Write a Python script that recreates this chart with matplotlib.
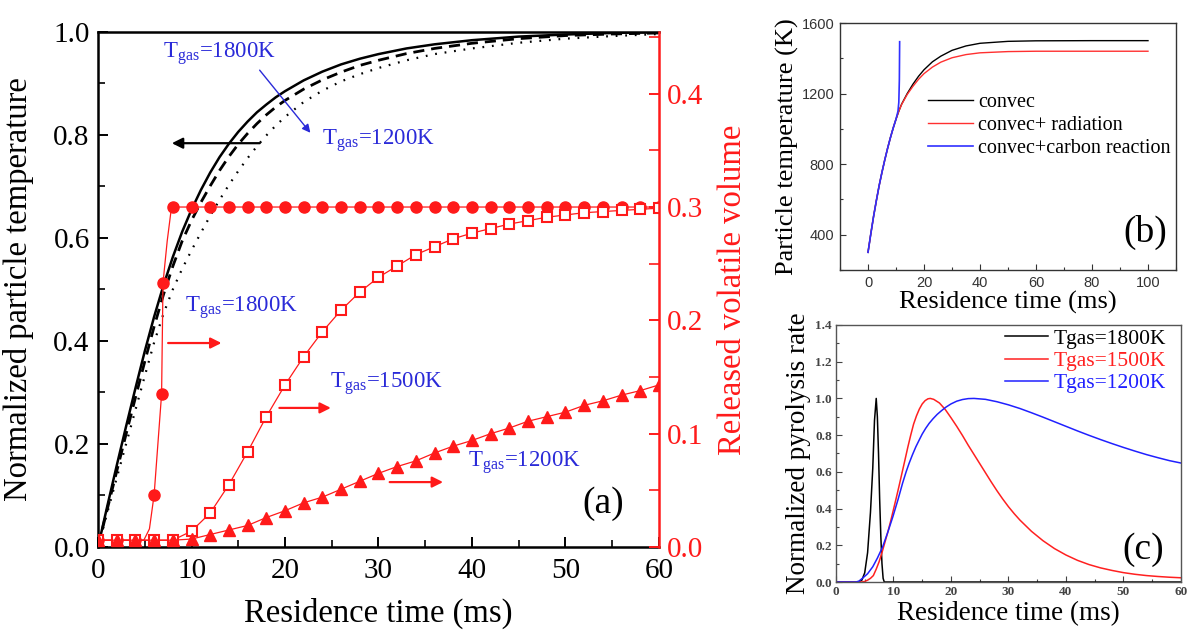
import matplotlib
matplotlib.use("Agg")
import matplotlib.pyplot as plt
from matplotlib.ticker import MultipleLocator

plt.rcParams['font.family'] = ['Liberation Serif', 'DejaVu Serif']
plt.rcParams['mathtext.fontset'] = 'custom'
plt.rcParams['mathtext.rm'] = 'Liberation Serif'
plt.rcParams['mathtext.it'] = 'Liberation Serif:italic'

# ---------------- panel (a): normalized particle temperature ----------------
t_T = [0, 1, 2, 3, 4, 5, 6, 7, 8, 9, 10, 11, 12, 13, 14, 15, 16, 17, 18, 19, 20, 22, 24, 26, 28, 30,
       33, 36, 40, 45, 50, 55, 60]
T1800 = [0, 0.08, 0.158, 0.234, 0.308, 0.38, 0.447, 0.508, 0.563, 0.612, 0.655, 0.693, 0.727, 0.757,
         0.783, 0.806, 0.826, 0.844, 0.859, 0.873, 0.885, 0.906, 0.923, 0.937, 0.948, 0.957, 0.968,
         0.976, 0.984, 0.991, 0.995, 0.998, 1.0]
T1500 = [0, 0.074, 0.147, 0.219, 0.29, 0.36, 0.428, 0.49, 0.545, 0.594, 0.634, 0.669, 0.701, 0.731,
         0.758, 0.782, 0.803, 0.822, 0.839, 0.854, 0.867, 0.889, 0.907, 0.922, 0.935, 0.945, 0.958,
         0.968, 0.978, 0.987, 0.993, 0.996, 0.998]
T1200 = [0, 0.067, 0.134, 0.2, 0.266, 0.332, 0.397, 0.453, 0.5, 0.54, 0.576, 0.61, 0.643, 0.674,
         0.703, 0.73, 0.755, 0.778, 0.799, 0.818, 0.835, 0.864, 0.886, 0.904, 0.918, 0.93, 0.945,
         0.957, 0.968, 0.979, 0.987, 0.992, 0.996]

# released volatile volume
t_V1800 = [0, 2, 4, 4.9, 5.5, 6.0, 6.8, 6.95, 7.4, 7.8, 8, 10, 12, 14, 16, 18, 20, 22, 24, 26, 28, 30,
           32, 34, 36, 38, 40, 42, 44, 46, 48, 50, 52, 54, 56, 58, 60]
V1800 = [0.006, 0.006, 0.006, 0.006, 0.016, 0.046, 0.135, 0.233, 0.27, 0.296] + [0.3] * 27
V1800_marks = [0, 1, 2, 5, 6, 7] + list(range(10, 37))

t_V = [0, 2, 4, 6, 8, 10, 12, 14, 16, 18, 20, 22, 24, 26, 28, 30, 32, 34, 36, 38, 40, 42, 44, 46, 48,
       50, 52, 54, 56, 58, 60]
V1500 = [0.006, 0.006, 0.006, 0.006, 0.006, 0.014, 0.030, 0.055, 0.084, 0.115, 0.143, 0.168, 0.190,
         0.209, 0.225, 0.238, 0.248, 0.258, 0.265, 0.272, 0.277, 0.281, 0.285, 0.288, 0.291, 0.293,
         0.295, 0.296, 0.297, 0.298, 0.299]
V1200 = [0.006, 0.006, 0.006, 0.006, 0.006, 0.007, 0.011, 0.015, 0.019, 0.026, 0.032, 0.039, 0.044,
         0.051, 0.058, 0.065, 0.071, 0.076, 0.083, 0.089, 0.094, 0.100, 0.105, 0.111, 0.115, 0.119,
         0.125, 0.129, 0.134, 0.138, 0.143]

# ---------------- panel (b): particle temperature ----------------
t_b = [0, 1, 2, 3, 4, 5, 6, 7, 8, 9, 10, 11, 12, 14, 16, 18, 20, 23, 26, 30, 35, 40, 50, 60, 80, 100]
Tb_convec = [300, 405, 505, 595, 680, 755, 825, 890, 950, 1005, 1055, 1100, 1140, 1200, 1252, 1297,
             1335, 1380, 1412, 1445, 1470, 1485, 1496, 1499, 1500, 1500]
Tb_rad = [300, 405, 505, 595, 680, 755, 825, 890, 950, 1005, 1055, 1100, 1138, 1195, 1240, 1280,
          1313, 1350, 1378, 1403, 1421, 1431, 1438, 1440, 1440, 1440]
t_b_carbon = [0, 1, 2, 3, 4, 5, 6, 7, 8, 9, 10, 10.7, 11.0, 11.2, 11.3]
Tb_carbon = [300, 405, 505, 595, 680, 755, 825, 890, 950, 1005, 1055, 1100, 1150, 1280, 1494]

# ---------------- panel (c): normalized pyrolysis rate ----------------
t_c1800 = [0, 4.0, 4.5, 5.0, 5.5, 6.0, 6.4, 6.7, 7.0, 7.2, 7.4, 7.6, 7.8, 8.0, 8.2, 8.4, 60]
R1800 = [0, 0, 0.01, 0.05, 0.16, 0.38, 0.62, 0.88, 1.0, 0.9, 0.7, 0.45, 0.25, 0.1, 0.02, 0, 0]
t_c1500 = [0, 4.5, 5.0, 5.5, 6.0, 6.5, 7.0, 7.5, 8.0, 8.5, 9.0, 9.5, 10.0, 10.5, 11.0, 11.5, 12.0,
           12.5, 13.0, 13.5, 14.0, 14.5, 15.0, 15.5, 16.0, 16.4, 17, 18, 19, 20, 21, 22, 23, 24, 25,
           26, 27, 28, 29, 30, 31, 32, 34, 36, 38, 40, 42, 44, 46, 48, 50, 52, 54, 56, 58, 60]
R1500 = [0, 0, 0.003, 0.01, 0.02, 0.035, 0.07, 0.11, 0.16, 0.215, 0.27, 0.33, 0.395, 0.46, 0.527,
         0.596, 0.665, 0.735, 0.8, 0.86, 0.905, 0.942, 0.97, 0.988, 0.998, 1.0, 0.995, 0.975, 0.94,
         0.895, 0.848, 0.798, 0.745, 0.695, 0.645, 0.595, 0.545, 0.497, 0.452, 0.41, 0.372, 0.337,
         0.276, 0.225, 0.182, 0.147, 0.118, 0.095, 0.077, 0.063, 0.051, 0.042, 0.035, 0.03, 0.026,
         0.023]
t_c1200 = [0, 3.5, 4.0, 4.6, 5.5, 6.4, 7.2, 8.1, 9.0, 9.9, 10.8, 11.6, 12.2, 12.7, 13.3, 13.9, 14.5,
           15.0, 15.6, 16.2, 16.9, 17.6, 18.3, 19.1, 20.0, 21.0, 22.0, 23.0, 24.0, 26, 28, 30, 32, 34,
           36, 38, 40, 42, 44, 46, 48, 50, 52, 54, 56, 58, 60]
R1200 = [0, 0, 0.005, 0.02, 0.045, 0.083, 0.13, 0.19, 0.27, 0.356, 0.45, 0.54, 0.6, 0.645, 0.693,
         0.737, 0.775, 0.806, 0.837, 0.864, 0.89, 0.913, 0.932, 0.952, 0.97, 0.985, 0.994, 0.999, 1.0,
         0.995, 0.982, 0.965, 0.945, 0.922, 0.898, 0.873, 0.848, 0.823, 0.799, 0.776, 0.754, 0.733,
         0.713, 0.694, 0.677, 0.661, 0.648]

RED = '#ff1a1a'
BLUE = '#2a2ad8'

fig = plt.figure(figsize=(11.91, 6.39), dpi=100)

# ================= panel (a) =================
ax = fig.add_axes([0.0823, 0.144, 0.4710, 0.806])
ax.plot(t_T, T1800, color='black', lw=1.8, ls='-')
ax.plot(t_T, T1500, color='black', lw=2.0, ls=(0, (4, 2.5)))
ax.plot(t_T, T1200, color='black', lw=1.6, ls=(0, (0.8, 3.5)))
ax.set_xlim(0, 60)
ax.set_ylim(0, 1.0)
ax.xaxis.set_major_locator(MultipleLocator(10))
ax.xaxis.set_minor_locator(MultipleLocator(5))
ax.yaxis.set_major_locator(MultipleLocator(0.2))
ax.yaxis.set_minor_locator(MultipleLocator(0.1))
ax.yaxis.set_major_formatter(plt.FuncFormatter(lambda v, p: f'{v:.1f}'))
ax.tick_params(axis='both', which='major', direction='in', length=7, width=1.4, labelsize=21)
ax.tick_params(axis='both', which='minor', direction='in', length=5, width=1.2)
ax.tick_params(axis='x', pad=8)
ax.tick_params(axis='y', pad=6)
for s in ['left', 'bottom', 'top']:
    ax.spines[s].set_linewidth(1.8)
ax.spines['right'].set_visible(False)
ax.set_xlabel('Residence time (ms)', fontsize=23.5, labelpad=10)
ax.set_ylabel('Normalized particle temperature', fontsize=23.5, labelpad=14)

ax2 = ax.twinx()
ax2.plot(t_V1800, V1800, color=RED, lw=0.9, marker='o', ms=8, markevery=V1800_marks,
         markerfacecolor=RED, markeredgecolor=RED)
ax2.plot(t_V, V1500, color=RED, lw=0.9, marker='s', ms=6.5, markerfacecolor='white',
         markeredgecolor=RED, markeredgewidth=1.5)
ax2.plot(t_V, V1200, color=RED, lw=0.9, marker='^', ms=8.5, markerfacecolor=RED,
         markeredgecolor=RED)
ax2.set_ylim(0, 0.4545)
ax2.yaxis.set_major_locator(MultipleLocator(0.1))
ax2.yaxis.set_minor_locator(MultipleLocator(0.05))
ax2.yaxis.set_major_formatter(plt.FuncFormatter(lambda v, p: f'{v:.1f}'))
ax2.tick_params(axis='y', which='major', direction='in', length=7, width=1.4, labelsize=21,
                colors=RED, pad=6)
ax2.tick_params(axis='y', which='minor', direction='in', length=7, width=1.2, colors=RED)
for s in ['left', 'bottom', 'top']:
    ax2.spines[s].set_visible(False)
ax2.spines['right'].set_color(RED)
ax2.spines['right'].set_linewidth(1.8)
ax2.set_ylabel('Released volatile volume', fontsize=23.5, color=RED, labelpad=10)

tg = r'$\mathregular{T_{gas}}$'
ax.text(7.0, 0.957, tg + '=1800K', color=BLUE, fontsize=16.5, va='center', ha='left')
ax.annotate('', xy=(22.9, 0.80), xytext=(17.1, 0.93),
            arrowprops=dict(arrowstyle='-|>', color=BLUE, lw=1.0, mutation_scale=12))
ax.text(24.0, 0.79, tg + '=1200K', color=BLUE, fontsize=16.5, va='center', ha='left')
ax.annotate('', xy=(7.6, 0.784), xytext=(17.6, 0.784),
            arrowprops=dict(arrowstyle='-|>', color='black', lw=1.6, mutation_scale=16))

ax.text(9.3, 0.464, tg + '=1800K', color=BLUE, fontsize=16.5, va='center', ha='left')
ax.annotate('', xy=(13.5, 0.396), xytext=(7.2, 0.396),
            arrowprops=dict(arrowstyle='-|>', color=RED, lw=1.6, mutation_scale=16))
ax.text(24.8, 0.318, tg + '=1500K', color=BLUE, fontsize=16.5, va='center', ha='left')
ax.annotate('', xy=(25.2, 0.27), xytext=(19.1, 0.27),
            arrowprops=dict(arrowstyle='-|>', color=RED, lw=1.6, mutation_scale=16))
ax.text(39.6, 0.163, tg + '=1200K', color=BLUE, fontsize=16.5, va='center', ha='left')
ax.annotate('', xy=(37.2, 0.126), xytext=(30.9, 0.126),
            arrowprops=dict(arrowstyle='-|>', color=RED, lw=1.6, mutation_scale=16))
ax.text(54.0, 0.085, '(a)', fontsize=27, ha='center', va='center')

# ================= panel (b) =================
bx = fig.add_axes([0.7053, 0.5775, 0.2821, 0.3865])
bx.plot(t_b, Tb_convec, color='black', lw=1.0, label='convec')
bx.plot(t_b, Tb_rad, color='#ff3030', lw=1.0, label='convec+ radiation')
bx.plot(t_b_carbon, Tb_carbon, color='#3030ff', lw=1.2, label='convec+carbon reaction')
bx.set_xlim(-10, 110)
bx.set_ylim(200, 1600)
bx.xaxis.set_major_locator(MultipleLocator(20))
bx.xaxis.set_minor_locator(MultipleLocator(10))
bx.yaxis.set_major_locator(MultipleLocator(400))
bx.yaxis.set_minor_locator(MultipleLocator(200))
bx.tick_params(axis='both', which='major', direction='in', length=4, width=0.8, labelsize=10.5,
               colors='#333333', pad=4)
bx.tick_params(axis='both', which='minor', direction='in', length=2, width=0.8, colors='#333333')
for lab in bx.get_xticklabels() + bx.get_yticklabels():
    lab.set_family(['Liberation Sans', 'DejaVu Sans'])
for s in bx.spines.values():
    s.set_color('#333333')
    s.set_linewidth(1.0)
bx.set_xlabel('Residence time (ms)', fontsize=19, labelpad=1)
bx.set_ylabel('Particle temperature (K)', fontsize=19, labelpad=2)
bx.legend(loc='upper left', bbox_to_anchor=(0.262, 0.715), frameon=False, fontsize=14.5,
          handlelength=2.25, handletextpad=0.25, labelspacing=0.18, borderpad=0, borderaxespad=0)
bx.text(0.908, 0.15, '(b)', transform=bx.transAxes, fontsize=27, ha='center', va='center')

# ================= panel (c) =================
cx = fig.add_axes([0.7019, 0.0892, 0.2897, 0.4022])
cx.plot(t_c1800, R1800, color='black', lw=1.1, label='Tgas=1800K')
cx.plot(t_c1500, R1500, color='#ff2020', lw=1.1, label='Tgas=1500K')
cx.plot(t_c1200, R1200, color='#2020ff', lw=1.1, label='Tgas=1200K')
cx.set_xlim(0, 60)
cx.set_ylim(0, 1.4)
cx.xaxis.set_major_locator(MultipleLocator(10))
cx.xaxis.set_minor_locator(MultipleLocator(5))
cx.yaxis.set_major_locator(MultipleLocator(0.2))
cx.yaxis.set_minor_locator(MultipleLocator(0.1))
cx.yaxis.set_major_formatter(plt.FuncFormatter(lambda v, p: f'{v:.1f}'))
cx.tick_params(axis='both', which='major', direction='in', length=4, width=0.8, labelsize=9.5,
               colors='#444444', pad=3)
cx.tick_params(axis='both', which='minor', direction='in', length=2, width=0.8, colors='#444444')
for lab in cx.get_xticklabels() + cx.get_yticklabels():
    lab.set_fontweight('bold')
for s in cx.spines.values():
    s.set_color('#555555')
    s.set_linewidth(1.0)
cx.set_xlabel('Residence time (ms)', fontsize=19.5, labelpad=2)
cx.set_ylabel('Normalized pyrolysis rate', fontsize=19.5, labelpad=3)
leg = cx.legend(loc='upper left', bbox_to_anchor=(0.49, 0.985), frameon=False, fontsize=15.5,
                handlelength=2.0, handletextpad=0.25, labelspacing=0.1, borderpad=0, borderaxespad=0)
for txt, line in zip(leg.get_texts(), leg.get_lines()):
    txt.set_color(line.get_color())
cx.text(0.89, 0.125, '(c)', transform=cx.transAxes, fontsize=27, ha='center', va='center')

fig.savefig('out.png', dpi=100)
